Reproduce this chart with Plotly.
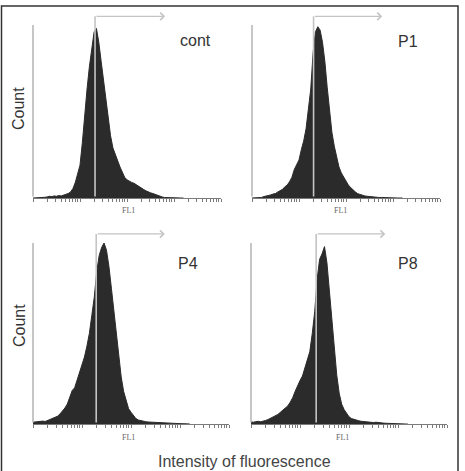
import plotly.graph_objects as go

# ---------------- data ----------------
# histogram bin centres on the FL1 axis, in decades (log10 of intensity)
fl1_log = [round(0.05 * i, 2) for i in range(65)]  # 0.00 ... 3.20

panel_names = ["cont", "P1", "P4", "P8"]

counts_cont = [0, 0, 0, 0, 0.2, 0.4, 0.6, 1.0, 0.8, 1.2,
               1.0, 1.4, 1.2, 1.7, 2.0, 2.6, 3.5, 5.5, 9, 14,
               19, 32, 49, 63, 76, 87, 96, 98, 90, 79,
               68, 57, 46, 36, 29, 25, 21, 18, 15, 12,
               10.5, 9.5, 9, 8.5, 7.5, 6.8, 6, 5, 4.2, 3.5,
               3, 2.6, 2, 1.5, 1, 0.6, 0.3, 0.2, 0.1, 0.1,
               0, 0, 0, 0, 0]

counts_p1 = [0, 0, 0, 0, 0.3, 0.8, 1.0, 1.2, 1.8, 2.3,
             2.6, 3.5, 4.2, 5.0, 6.5, 7.5, 9.5, 12, 16.5, 19,
             22, 28, 33, 40, 50, 63, 84, 96, 99, 97,
             90, 79, 64, 52, 38, 30, 23, 18, 14.5, 12,
             9.5, 7.5, 6, 4.5, 3.5, 2.5, 2, 1.5, 1.2, 1,
             0.8, 0.6, 0.5, 0.4, 0.3, 0.3, 0.2, 0.2, 0.1, 0.1,
             0.1, 0, 0, 0, 0]

counts_p4 = [1, 1.2, 1, 1.3, 1.6, 1.4, 2, 2.3, 2.8, 3.5,
             4.3, 5.5, 7, 8.8, 11, 15, 18.5, 20, 24, 29,
             33, 37, 43, 50, 60, 70, 84, 93, 97.5, 100,
             96, 87, 75, 62, 48, 37, 26, 18, 12.5, 8.5,
             6.5, 4.8, 3, 2.2, 1.8, 1.5, 1.3, 1.1, 1, 0.9,
             0.9, 0.8, 0.8, 0.9, 0.6, 0.6, 0.5, 0.4, 0.3, 0.3,
             0.2, 0.2, 0.1, 0.1, 0]

counts_p8 = [1.2, 1, 1.3, 1.5, 1.2, 1.4, 2, 2.5, 3.2, 3.8,
             4.6, 5.3, 6.5, 7.5, 8.6, 10, 12, 14.5, 18, 21.5,
             24, 26.5, 31, 35, 40, 50, 62, 80, 91, 94,
             98, 89, 73, 57, 40, 27, 17, 11, 8, 6,
             4, 3, 2.5, 2.2, 1.8, 1.5, 1.3, 1.1, 1, 0.9,
             0.8, 1, 0.7, 0.6, 0.5, 0.4, 0.3, 0.3, 0.2, 0.2,
             0.1, 0.1, 0.1, 0, 0]

# gate marker (log10 FL1) and end of gate arrow
gate_start_log = [1.32, 1.31, 1.29, 1.33]
gate_end_log = [2.81, 2.77, 2.69, 2.74]
gate_level = 105
axis_top = 100

all_counts = [counts_cont, counts_p1, counts_p4, counts_p8]

# log tick positions (1..9 x decade)
tick_vals = [k * 10 ** e for e in range(4) for k in range(1, 10)] + [10000]

# ---------------- layout geometry ----------------
W, H = 465, 471
# (left px, right px, baseline px, top-of-100 px)
geom = [(33, 221, 198, 25), (252, 440, 198, 25),
        (33, 229, 424, 243), (251, 447, 424, 243)]
label_pos = [(195, 41), (408, 42), (188, 263), (408, 263)]
fl1_pos = [(128, 210), (340, 210), (128, 437), (342, 437)]
YMAX = 108

fig = go.Figure()
layout = dict(width=W, height=H, margin=dict(l=0, r=0, t=0, b=0),
              paper_bgcolor="white", plot_bgcolor="white", showlegend=False,
              font=dict(family="Liberation Sans, Arial, sans-serif", color="#333"))
annotations = []

for i, (name, cnts) in enumerate(zip(panel_names, all_counts)):
    n = i + 1
    xs = "x" if n == 1 else f"x{n}"
    ys = "y" if n == 1 else f"y{n}"
    l, r, base, top = geom[i]
    pxu = (base - top) / axis_top
    ytop_px = base - pxu * YMAX
    xd = [l / W, r / W]
    yd = [1 - base / H, 1 - ytop_px / H]
    fig.add_trace(go.Scatter(
        x=[10 ** v for v in fl1_log], y=cnts, mode="lines",
        line=dict(color="#2b2b2b", width=1, shape="linear"),
        fill="tozeroy", fillcolor="#2b2b2b",
        xaxis=xs, yaxis=ys, hoverinfo="skip"))
    xkey = "xaxis" if n == 1 else f"xaxis{n}"
    ykey = "yaxis" if n == 1 else f"yaxis{n}"
    layout[xkey] = dict(type="log", range=[0, 4], domain=xd, anchor=ys,
                        showline=True, linecolor="#7a7a7a", linewidth=1,
                        ticks="outside", tickvals=tick_vals, ticklen=3,
                        tickwidth=1, tickcolor="#7a7a7a",
                        showticklabels=False, showgrid=False, zeroline=False)
    layout[ykey] = dict(range=[0, YMAX], domain=yd, anchor=xs,
                        showline=False, showticklabels=False, showgrid=False,
                        zeroline=False, ticks="")
    # y axis line (only up to 100)
    annotations.append(dict(xref=xs, yref=ys, axref=xs, ayref=ys,
                            x=0, y=axis_top, ax=0, ay=0, text="",
                            showarrow=True, arrowhead=0, arrowwidth=1.6,
                            arrowcolor="#b8b8b8"))
    # gate vertical marker
    annotations.append(dict(xref=xs, yref=ys, axref=xs, ayref=ys,
                            x=gate_start_log[i], y=gate_level,
                            ax=gate_start_log[i], ay=0, text="",
                            showarrow=True, arrowhead=0, arrowwidth=1.6,
                            arrowcolor="#c4c4c4"))
    # gate horizontal arrow
    annotations.append(dict(xref=xs, yref=ys, axref=xs, ayref=ys,
                            x=gate_end_log[i], y=gate_level,
                            ax=gate_start_log[i], ay=gate_level, text="",
                            showarrow=True, arrowhead=4, arrowsize=1.2,
                            arrowwidth=1.2, arrowcolor="#c4c4c4"))
    # panel label
    lx, ly = label_pos[i]
    annotations.append(dict(xref="paper", yref="paper", x=lx / W, y=1 - ly / H,
                            text=name, showarrow=False, xanchor="center",
                            yanchor="middle", font=dict(size=16, color="#333")))
    fx, fy = fl1_pos[i]
    annotations.append(dict(xref="paper", yref="paper", x=fx / W, y=1 - fy / H,
                            text="FL1", showarrow=False, xanchor="center",
                            yanchor="middle",
                            font=dict(size=8, color="#666",
                                      family="Liberation Serif, serif")))

# Count labels
for cy in (109, 326):
    annotations.append(dict(xref="paper", yref="paper", x=19 / W, y=1 - cy / H,
                            text="Count", textangle=-90, showarrow=False,
                            xanchor="center", yanchor="middle",
                            font=dict(size=16, color="#333")))
annotations.append(dict(xref="paper", yref="paper", x=244 / W, y=1 - 461 / H,
                        text="Intensity of fluorescence", showarrow=False,
                        xanchor="center", yanchor="middle",
                        font=dict(size=16, color="#444")))

layout["annotations"] = annotations
layout["shapes"] = [dict(type="rect", xref="paper", yref="paper",
                         x0=1.5 / W, x1=458 / W, y0=-0.01, y1=1 - 6 / H,
                         line=dict(color="#333", width=1.5))]
fig.update_layout(**layout)
fig.write_html("out.html")
